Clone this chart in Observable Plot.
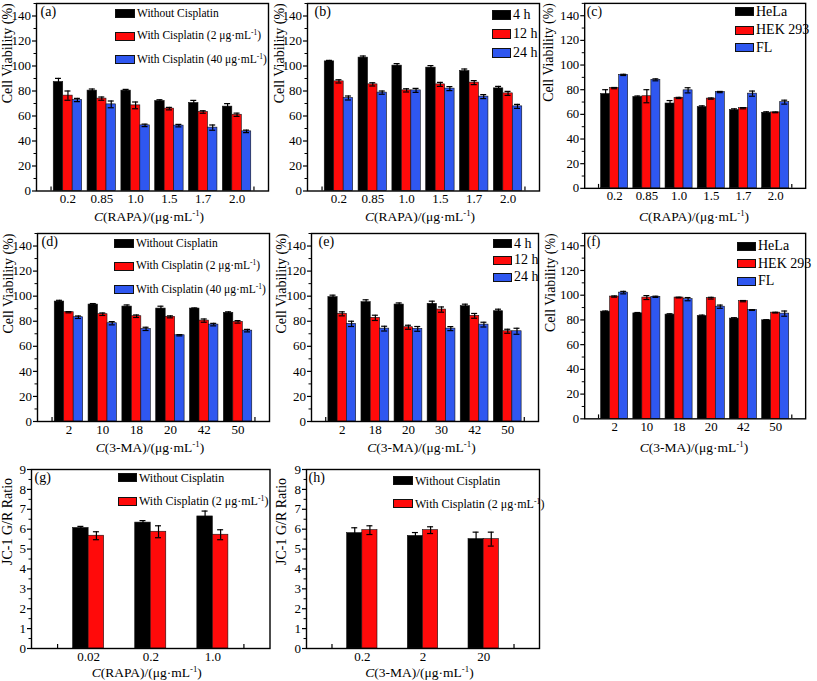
<!DOCTYPE html>
<html><head><meta charset="utf-8">
<script src="https://cdn.jsdelivr.net/npm/d3@7"></script>
<script src="https://cdn.jsdelivr.net/npm/@observablehq/plot@0.6"></script>
<style>
body{margin:0;background:#fff;}
#fig{position:relative;width:817px;height:681px;overflow:hidden;font-family:"Liberation Serif","Times New Roman",serif;color:#000;background:#fff;}
.panel{position:absolute;}
.panel svg{overflow:visible;}
.xt{position:absolute;font-size:13.5px;white-space:nowrap;transform:translate(-50%,-50%);line-height:1;}
.lg{position:absolute;display:flex;align-items:center;white-space:nowrap;line-height:1;}
.sw{box-sizing:border-box;border:1px solid #111;margin-right:2px;flex:none;}
sup{font-size:0.65em;vertical-align:0.55em;line-height:0;}
</style></head><body><div id="fig"></div>
<script>
// ---- categories / tick labels ----
const rapaDoses = ["0.2","0.85","1.0","1.5","1.7","2.0"];
const maDosesD = ["2","10","18","20","42","50"];
const maDosesE = ["2","18","20","30","42","50"];
const maDosesF = ["2","10","18","20","42","50"];
const jcRapaDoses = ["0.02","0.2","1.0"];
const jcMaDoses = ["0.2","2","20"];
const cisplatinSeries = ["Without Cisplatin","With Cisplatin (2 μg·mL<sup>-1</sup>)","With Cisplatin (40 μg·mL<sup>-1</sup>)"];
const timeSeries = ["4 h","12 h","24 h"];
const cellSeries = ["HeLa","HEK 293","FL"];
const seriesColors = ["#000000","#ff0a0a","#2f57f0"];
const viabilityTicks = [0,20,40,60,80,100,120,140];
const viabilityMinor = [10,30,50,70,90,110,130,150];
const ratioTicks = [0,1,2,3,4,5,6,7,8,9];
const ratioMinor = [0.5,1.5,2.5,3.5,4.5,5.5,6.5,7.5,8.5];

// ---- values: [series][category] ----
const aMean = [[87.2,80.3,80.3,72.0,70.4,67.5],[76.3,73.9,68.5,65.9,63.2,61.0],[72.8,69.3,52.5,52.3,50.7,47.7]];
const aErr  = [[2.9,1.3,1.0,1.0,2.1,2.4],[3.7,1.3,2.7,1.0,1.0,1.3],[1.3,2.7,1.0,1.0,2.1,1.0]];
const bMean = [[103.7,106.7,100.3,98.7,96.0,82.1],[87.7,85.3,80.5,85.3,86.7,78.1],[74.4,78.7,80.5,81.9,75.5,67.7]];
const bErr  = [[0.8,1.3,1.6,1.6,1.6,1.6],[1.3,1.3,1.3,1.6,1.6,1.6],[1.6,1.3,1.6,1.6,1.6,1.6]];
const cMean = [[76.5,74.1,68.8,65.9,63.5,61.3],[81.3,74.7,73.3,72.8,65.0,61.6],[92.0,88.0,79.5,78.1,76.8,69.9]];
const cErr  = [[3.5,0.8,2.4,1.0,1.0,0.8],[0.5,5.3,0.5,0.5,0.5,0.3],[0.5,0.8,2.1,0.5,2.1,1.6]];
const dMean = [[95.7,93.3,91.7,90.1,90.1,86.7],[87.2,85.6,84.0,83.5,80.5,79.5],[83.2,78.4,73.9,68.8,77.3,72.5]];
const dErr  = [[1.0,0.8,1.3,1.9,0.5,0.8],[0.5,1.0,1.0,0.8,1.3,1.0],[1.0,1.3,1.3,0.5,1.0,1.0]];
const eMean = [[99.2,95.2,93.3,93.9,92.0,88.0],[85.9,82.7,75.2,89.3,84.3,72.0],[77.9,74.1,73.9,74.1,77.3,72.0]];
const eErr  = [[1.6,1.9,1.3,2.1,1.6,1.6],[1.6,2.1,1.6,2.1,1.9,1.6],[2.1,1.9,1.9,1.6,1.9,2.4]];
const fMean = [[86.7,85.3,84.3,83.2,81.1,79.7],[98.9,98.1,98.1,97.6,95.2,85.9],[102.1,98.7,96.8,90.7,88.0,85.1]];
const fErr  = [[0.5,0.7,0.7,0.7,0.7,0.5],[0.5,1.6,0.3,0.7,0.5,0.3],[1.0,0.5,1.3,1.3,0.3,2.1]];
const gMean = [[6.06,6.33,6.64],[5.67,5.87,5.72]];
const gErr  = [[0.08,0.10,0.27],[0.20,0.30,0.25]];
const hMean = [[5.80,5.66,5.50],[5.95,5.95,5.50]];
const hErr  = [[0.27,0.17,0.35],[0.22,0.17,0.35]];

const rapaTitle = "<i>C</i>(RAPA)/(μg·mL<sup>-1</sup>)";
const maTitle = "<i>C</i>(3-MA)/(μg·mL<sup>-1</sup>)";

const panels = [
  {tag:"(a)", cats:rapaDoses, mean:aMean, err:aErr, series:cisplatinSeries, left:36, right:268, top:2.5, bottom:190, ymax:150, yt:viabilityTicks, ym:viabilityMinor, ytitle:"Cell Viability (%)", ytx:7, tagDx:4, xtitle:rapaTitle, xty:217, pad:0.93, barW:0.28, lg:{x:115, ys:[9.3,31.7,55], fs:11.5, w:20, h:9}},
  {tag:"(b)", cats:rapaDoses, mean:bMean, err:bErr, series:timeSeries, left:307, right:539, top:2.5, bottom:190, ymax:150, yt:viabilityTicks, ym:viabilityMinor, ytitle:"Cell Viability (%)", ytx:279, tagDx:7, xtitle:rapaTitle, xty:217, pad:0.93, barW:0.28, lg:{x:492, ys:[10,29.3,48.3], fs:14, w:19, h:10}},
  {tag:"(c)", cats:rapaDoses, mean:cMean, err:cErr, series:cellSeries, left:585, right:809, top:2.5, bottom:190, ymax:150, yt:viabilityTicks, ym:viabilityMinor, ytitle:"Cell Viability (%)", ytx:548, tagDx:2, xtitle:rapaTitle, xty:217, pad:0.93, barW:0.28, lg:{x:735, ys:[7.3,25.7,43.3], fs:14, w:19, h:9}},
  {tag:"(d)", cats:maDosesD, mean:dMean, err:dErr, series:cisplatinSeries, left:37, right:269, top:233, bottom:421, ymax:150, yt:viabilityTicks, ym:viabilityMinor, ytitle:"Cell Viability (%)", ytx:8, tagDx:4, xtitle:maTitle, xty:448, pad:0.93, barW:0.28, lg:{x:114, ys:[239,261.7,285], fs:11.5, w:20, h:9}},
  {tag:"(e)", cats:maDosesE, mean:eMean, err:eErr, series:timeSeries, left:311, right:538, top:233, bottom:421, ymax:150, yt:viabilityTicks, ym:viabilityMinor, ytitle:"Cell Viability (%)", ytx:281, tagDx:7, xtitle:maTitle, xty:448, pad:0.93, barW:0.28, lg:{x:493, ys:[239,255.7,272.7], fs:14, w:19, h:9}},
  {tag:"(f)", cats:maDosesF, mean:fMean, err:fErr, series:cellSeries, left:585, right:809, top:233, bottom:421, ymax:150, yt:viabilityTicks, ym:viabilityMinor, ytitle:"Cell Viability (%)", ytx:550, tagDx:2, xtitle:maTitle, xty:448, pad:0.93, barW:0.28, lg:{x:737, ys:[241.7,259,276.7], fs:14, w:19, h:9}},
  {tag:"(g)", cats:jcRapaDoses, mean:gMean, err:gErr, series:cisplatinSeries.slice(0,2), left:30.5, right:269, top:469, bottom:648, ymax:9, yt:ratioTicks, ym:ratioMinor, ytitle:"JC-1 G/R Ratio", ytx:7, tagDx:3, xtitle:rapaTitle, xty:673, pad:0.92, barW:0.25, lg:{x:118, ys:[473.3,496.7], fs:12, w:19, h:9}},
  {tag:"(h)", cats:jcMaDoses, mean:hMean, err:hErr, series:cisplatinSeries.slice(0,2), left:306, right:539, top:469, bottom:648, ymax:9, yt:ratioTicks, ym:ratioMinor, ytitle:"JC-1 G/R Ratio", ytx:281, tagDx:2, xtitle:maTitle, xty:673, pad:0.92, barW:0.25, lg:{x:393, ys:[476,499.3], fs:12, w:20, h:9}}
];

const fig = document.getElementById("fig");

function addPanel(p) {
  const n = p.cats.length, k = p.mean.length;
  const plotW = p.right - p.left, plotH = p.bottom - p.top;
  const step = plotW / (n - 1 + 2 * p.pad);
  const cap = 3 / step;
  const rows = [];
  p.mean.forEach((arr, s) => arr.forEach((v, i) => {
    const xc = i + (s - (k - 1) / 2) * p.barW;
    rows.push({s, i, v, e: p.err[s][i], xc, x1: xc - p.barW / 2, x2: xc + p.barW / 2});
  }));
  const mL = 60, mR = 12, mT = 8, mB = 40;
  const chart = Plot.plot({
    width: plotW + mL + mR, height: plotH + mT + mB,
    marginLeft: mL, marginRight: mR, marginTop: mT, marginBottom: mB,
    x: {type: "linear", domain: [-p.pad, n - 1 + p.pad]},
    y: {type: "linear", domain: [0, p.ymax]},
    color: {type: "identity"},
    style: {fontFamily: '"Liberation Serif", "Times New Roman", serif', fontSize: "13px", background: "transparent", color: "#000", overflow: "visible"},
    marks: [
      Plot.rect(rows, {x1: "x1", x2: "x2", y1: () => 0, y2: "v", fill: d => seriesColors[d.s], stroke: "#111", strokeWidth: 0.6}),
      Plot.ruleX(rows, {x: "xc", y1: d => d.v - d.e, y2: d => d.v + d.e, stroke: "#000", strokeWidth: 1.2}),
      Plot.ruleY(rows, {y: d => d.v + d.e, x1: d => d.xc - cap, x2: d => d.xc + cap, stroke: "#000", strokeWidth: 1.2}),
      Plot.ruleY(rows, {y: d => d.v - d.e, x1: d => d.xc - cap, x2: d => d.xc + cap, stroke: "#000", strokeWidth: 1.2}),
      Plot.axisY({ticks: p.yt, tickSize: 4, tickPadding: 1.5, label: null, fontSize: 13, strokeWidth: 1.2}),
      Plot.axisY({ticks: p.ym, tickSize: 2.5, fill: "none", label: null, strokeWidth: 1}),
      Plot.axisX({ticks: d3.range(n), tickFormat: i => p.cats[i], tickSize: 0, tickPadding: 3, label: null, fontSize: 13}),
      Plot.tickX([-0.5, n - 0.5], {x: d => d, insetTop: plotH - 4, strokeWidth: 1.2}),
      Plot.frame({stroke: "#000", strokeWidth: 1.4}),
      Plot.text([p.tag], {frameAnchor: "top-left", dx: p.tagDx, dy: 3, textAnchor: "start", lineAnchor: "top", fontSize: 14}),
      Plot.text([p.ytitle], {frameAnchor: "left", dx: p.ytx - p.left, dy: 6, rotate: -90, fontSize: 14})
    ]
  });
  const div = document.createElement("div");
  div.className = "panel";
  div.style.left = (p.left - mL) + "px";
  div.style.top = (p.top - mT) + "px";
  div.appendChild(chart);
  fig.appendChild(div);

  const xt = document.createElement("div");
  xt.className = "xt";
  xt.style.left = ((p.left + p.right) / 2 - 3) + "px";
  xt.style.top = p.xty + "px";
  xt.innerHTML = p.xtitle;
  fig.appendChild(xt);

  p.series.forEach((name, s) => {
    const lg = document.createElement("div");
    lg.className = "lg";
    lg.style.left = p.lg.x + "px";
    lg.style.top = p.lg.ys[s] + "px";
    lg.style.height = p.lg.h + "px";
    lg.style.fontSize = p.lg.fs + "px";
    const sw = document.createElement("span");
    sw.className = "sw";
    sw.style.width = p.lg.w + "px";
    sw.style.height = p.lg.h + "px";
    sw.style.background = seriesColors[s];
    const tx = document.createElement("span");
    tx.innerHTML = name;
    lg.appendChild(sw);
    lg.appendChild(tx);
    fig.appendChild(lg);
  });
}

panels.forEach(addPanel);
</script></body></html>
